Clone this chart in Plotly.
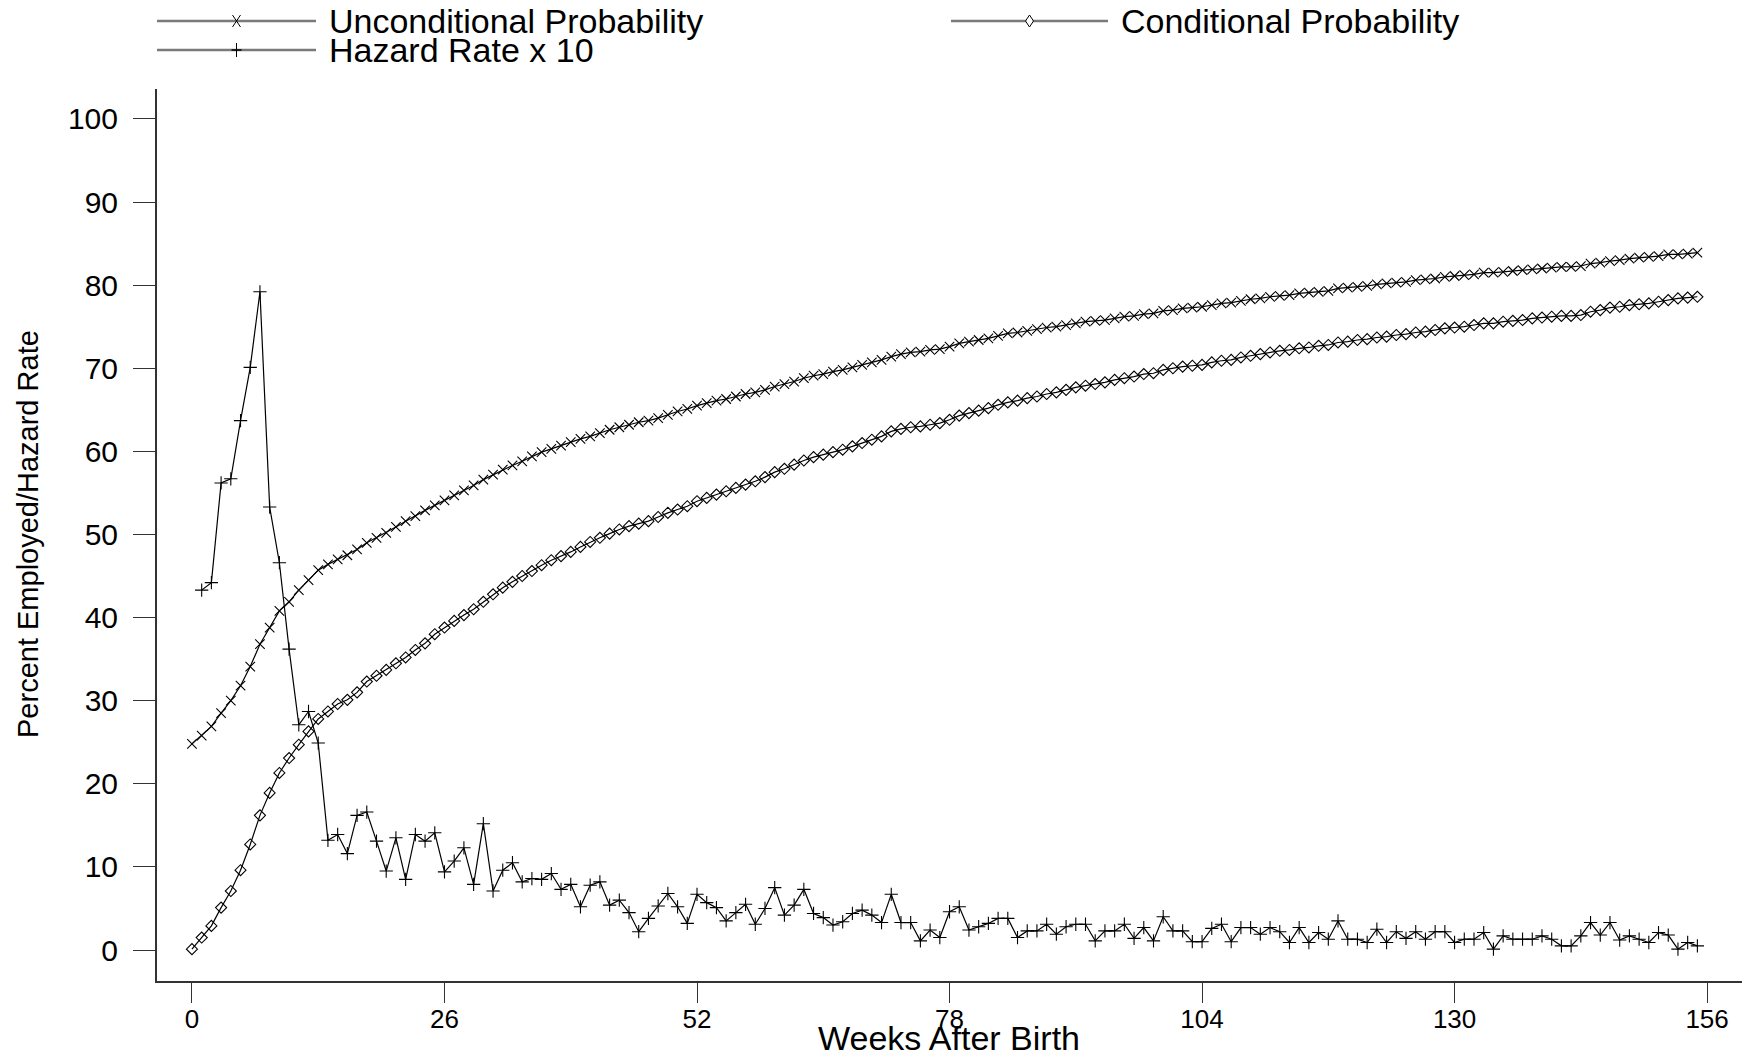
import plotly.graph_objects as go

# ---------------- data ----------------
unconditional = [
    24.8, 25.8, 26.9, 28.5, 30.0, 31.8, 34.1, 36.8, 38.8, 40.8,
    41.9, 43.3, 44.5, 45.7, 46.4, 47.0, 47.5, 48.2, 49.0, 49.6,
    50.2, 50.9, 51.6, 52.2, 52.9, 53.5, 54.1, 54.7, 55.3, 55.9,
    56.6, 57.2, 57.8, 58.3, 58.8, 59.4, 59.9, 60.3, 60.7, 61.1,
    61.5, 61.8, 62.2, 62.6, 62.9, 63.2, 63.5, 63.7, 64.0, 64.4,
    64.8, 65.1, 65.5, 65.8, 66.1, 66.3, 66.6, 66.9, 67.1, 67.4,
    67.8, 68.1, 68.4, 68.8, 69.1, 69.3, 69.6, 69.8, 70.1, 70.4,
    70.7, 71.0, 71.4, 71.7, 71.9, 72.0, 72.2, 72.3, 72.6, 73.0,
    73.2, 73.4, 73.6, 73.9, 74.2, 74.3, 74.5, 74.7, 74.9, 75.0,
    75.2, 75.4, 75.6, 75.7, 75.8, 76.0, 76.2, 76.3, 76.5, 76.6,
    76.9, 77.0, 77.2, 77.3, 77.4, 77.6, 77.8, 77.9, 78.1, 78.3,
    78.4, 78.6, 78.7, 78.8, 79.0, 79.1, 79.2, 79.3, 79.6, 79.7,
    79.8, 79.9, 80.1, 80.2, 80.3, 80.4, 80.6, 80.7, 80.8, 81.0,
    81.1, 81.2, 81.3, 81.5, 81.5, 81.6, 81.7, 81.8, 81.9, 82.0,
    82.1, 82.2, 82.2, 82.3, 82.6, 82.7, 82.9, 83.0, 83.2, 83.3,
    83.4, 83.5, 83.7, 83.7, 83.8, 83.9,
]

conditional = [
    0.1, 1.5, 2.9, 5.1, 7.1, 9.6, 12.7, 16.2, 18.9, 21.3,
    23.1, 24.7, 26.3, 27.8, 28.7, 29.6, 30.1, 31.0, 32.3, 33.0,
    33.7, 34.5, 35.2, 36.1, 36.9, 38.0, 38.8, 39.6, 40.3, 41.0,
    41.9, 42.8, 43.6, 44.3, 45.0, 45.6, 46.3, 46.9, 47.4, 47.9,
    48.5, 49.1, 49.6, 50.1, 50.6, 51.0, 51.3, 51.6, 52.1, 52.6,
    53.0, 53.4, 54.0, 54.4, 54.8, 55.2, 55.6, 56.0, 56.4, 56.9,
    57.5, 57.9, 58.4, 58.9, 59.3, 59.6, 59.9, 60.2, 60.6, 61.0,
    61.4, 61.8, 62.4, 62.7, 62.9, 63.0, 63.2, 63.4, 63.8, 64.3,
    64.6, 64.9, 65.2, 65.6, 65.9, 66.1, 66.4, 66.6, 66.9, 67.1,
    67.4, 67.7, 67.9, 68.1, 68.3, 68.6, 68.8, 69.0, 69.3, 69.4,
    69.8, 70.0, 70.2, 70.3, 70.4, 70.7, 70.9, 71.0, 71.3, 71.5,
    71.7, 71.9, 72.1, 72.2, 72.4, 72.5, 72.7, 72.8, 73.1, 73.2,
    73.4, 73.5, 73.7, 73.8, 74.0, 74.1, 74.3, 74.4, 74.6, 74.8,
    74.9, 75.0, 75.2, 75.4, 75.4, 75.6, 75.7, 75.8, 76.0, 76.1,
    76.2, 76.3, 76.3, 76.4, 76.8, 77.0, 77.3, 77.4, 77.6, 77.7,
    77.8, 78.0, 78.2, 78.4, 78.5, 78.6,
]

hazard_x10 = [
    43.3, 44.2, 56.2, 56.7, 63.7, 70.1, 79.2, 53.3, 46.6, 36.2,
    27.1, 28.7, 24.9, 13.2, 13.9, 11.6, 16.2, 16.6, 13.1, 9.5,
    13.5, 8.5, 13.9, 13.1, 14.1, 9.4, 10.7, 12.3, 7.9, 15.2,
    7.1, 9.6, 10.5, 8.2, 8.6, 8.5, 9.2, 7.3, 7.9, 5.2,
    7.8, 8.2, 5.4, 6.0, 4.5, 2.2, 3.8, 5.3, 6.8, 5.2,
    3.2, 6.7, 5.7, 5.1, 3.5, 4.5, 5.5, 3.1, 5.0, 7.5,
    4.2, 5.4, 7.3, 4.4, 3.9, 3.0, 3.4, 4.4, 4.8, 4.2,
    3.3, 6.7, 3.3, 3.3, 1.1, 2.4, 1.5, 4.6, 5.2, 2.4,
    2.8, 3.2, 3.8, 3.8, 1.5, 2.3, 2.3, 3.1, 1.9, 2.8,
    3.1, 3.1, 1.1, 2.3, 2.3, 3.1, 1.4, 2.7, 1.1, 4.0,
    2.3, 2.3, 1.0, 1.0, 2.6, 3.1, 1.0, 2.7, 2.7, 1.9,
    2.7, 2.2, 0.9, 2.7, 0.9, 2.1, 1.3, 3.5, 1.3, 1.3,
    0.9, 2.5, 0.9, 2.2, 1.4, 2.2, 1.3, 2.2, 2.2, 0.9,
    1.3, 1.3, 2.1, 0.1, 1.7, 1.3, 1.3, 1.3, 1.7, 1.3,
    0.5, 0.5, 1.7, 3.3, 1.8, 3.3, 1.2, 1.7, 1.3, 0.9,
    2.1, 1.8, 0.1, 0.9, 0.5,
]

weeks_prob = list(range(len(unconditional)))
weeks_hazard = list(range(1, len(hazard_x10) + 1))

x_ticks = [0, 26, 52, 78, 104, 130, 156]
y_ticks = [0, 10, 20, 30, 40, 50, 60, 70, 80, 90, 100]

series_names = ["Unconditional Probability", "Conditional Probability", "Hazard Rate x 10"]

# ---------------- styling ----------------
FONT = "Liberation Sans, Arial, Helvetica, sans-serif"
BLACK = "#000000"
LINE_W = 1.2

fig = go.Figure()

fig.add_trace(go.Scatter(
    x=weeks_prob, y=unconditional, mode="lines+markers", name=series_names[0],
    line=dict(color=BLACK, width=LINE_W),
    marker=dict(symbol="x-thin-open", size=9.5, color=BLACK, line=dict(color=BLACK, width=1.1)),
    showlegend=False,
))
fig.add_trace(go.Scatter(
    x=weeks_prob, y=conditional, mode="lines+markers", name=series_names[1],
    line=dict(color=BLACK, width=LINE_W),
    marker=dict(symbol="diamond-open", size=8.5, color=BLACK, line=dict(color=BLACK, width=1.1)),
    showlegend=False,
))
fig.add_trace(go.Scatter(
    x=weeks_hazard, y=hazard_x10, mode="lines+markers", name=series_names[2],
    line=dict(color=BLACK, width=LINE_W),
    marker=dict(symbol="cross-thin-open", size=9.5, color=BLACK, line=dict(color=BLACK, width=1.1)),
    showlegend=False,
))

# ---------------- page geometry ----------------
# The page body has an 8px margin, so the figure is drawn 8px right/down of the window origin.
OFF = 8
FIG_W, FIG_H = 1750 - OFF, 1059 - 2 * OFF
# plot area in window pixels
L, R, T, B = 157, 1744, 89, 981
W, H = R - L, B - T


def px(xp):
    return (xp - L) / W


def py(yp):
    return (B - yp) / H


shapes = []
annotations = []

# ---------------- custom legend ----------------
legend_items = [
    (series_names[0], "x", 157, 316, 327, 21),
    (series_names[1], "diamond", 951, 1108, 1119, 21),
    (series_names[2], "cross", 157, 316, 327, 50),
]


def seg(xa, ya, xb, yb, color=BLACK, width=1):
    return dict(type="line", xref="paper", yref="paper",
                x0=px(xa), y0=py(ya), x1=px(xb), y1=py(yb),
                line=dict(color=color, width=width))


for name, sym, x0, x1, xt, yc in legend_items:
    shapes.append(seg(x0, yc, x1, yc, color="#7a7a7a", width=2.5))
    cx = (x0 + x1) / 2
    if sym == "x":
        shapes.append(seg(cx - 4, yc - 6, cx + 4, yc + 6))
        shapes.append(seg(cx - 4, yc + 6, cx + 4, yc - 6))
    elif sym == "cross":
        shapes.append(seg(cx, yc - 7, cx, yc + 7))
        shapes.append(seg(cx - 5, yc, cx + 5, yc, width=1.5))
    else:
        path = "M {} {} L {} {} L {} {} L {} {} Z".format(
            px(cx), py(yc - 6), px(cx + 4), py(yc), px(cx), py(yc + 6), px(cx - 4), py(yc))
        shapes.append(dict(type="path", xref="paper", yref="paper", path=path,
                           fillcolor="white", line=dict(color=BLACK, width=1)))
    annotations.append(dict(text=name, xref="paper", yref="paper",
                            x=px(xt), y=py(yc), xanchor="left", yanchor="middle",
                            showarrow=False, font=dict(family=FONT, size=34, color=BLACK)))

# axis titles
annotations.append(dict(text="Weeks After Birth", xref="paper", yref="paper",
                        x=px(949), y=py(1038), xanchor="center", yanchor="middle",
                        showarrow=False, font=dict(family=FONT, size=34, color=BLACK)))
annotations.append(dict(text="Percent Employed/Hazard Rate", xref="paper", yref="paper",
                        x=px(28), y=py(534), xanchor="center", yanchor="middle", textangle=-90,
                        showarrow=False, font=dict(family=FONT, size=29, color=BLACK)))

fig.update_layout(
    width=FIG_W, height=FIG_H,
    margin=dict(l=L - OFF, r=(FIG_W + OFF) - R, t=T - OFF, b=(FIG_H + OFF) - B),
    paper_bgcolor="white", plot_bgcolor="white",
    shapes=shapes, annotations=annotations,
    showlegend=False,
    xaxis=dict(
        range=[-3.6, 159.8], tickvals=x_ticks, ticktext=[str(v) for v in x_ticks],
        showgrid=False, zeroline=False, showline=True, linecolor="#333333", linewidth=2,
        ticks="outside", ticklen=20, tickwidth=1.2, tickcolor="#333333",
        tickfont=dict(family=FONT, size=26, color=BLACK), ticklabelstandoff=-6,
    ),
    yaxis=dict(
        range=[-3.73, 103.6], tickvals=y_ticks, ticktext=[str(v) for v in y_ticks],
        showgrid=False, zeroline=False, showline=True, linecolor="#333333", linewidth=2,
        ticks="outside", ticklen=22, tickwidth=1.2, tickcolor="#333333",
        tickfont=dict(family=FONT, size=30, color=BLACK), ticklabelstandoff=9,
    ),
)

fig.write_html("out.html")
